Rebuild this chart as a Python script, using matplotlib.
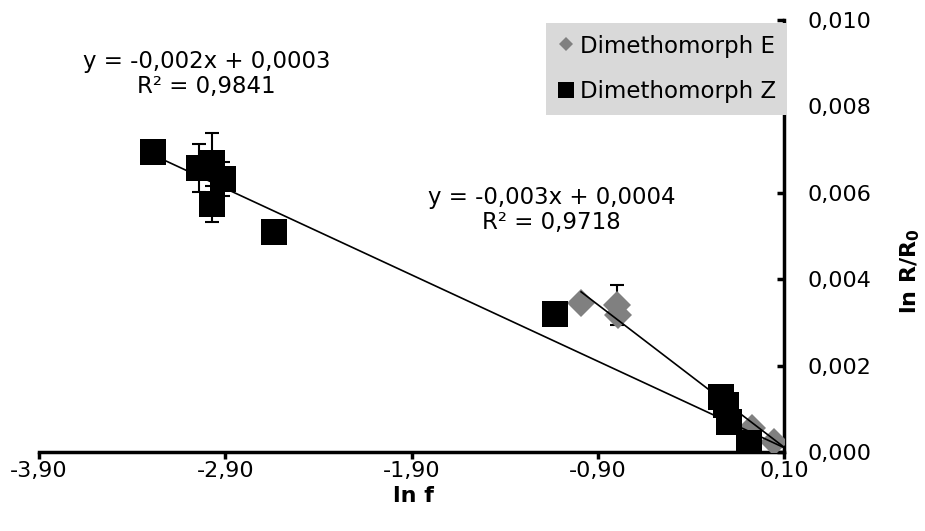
import numpy as np
import matplotlib.pyplot as plt
from matplotlib.lines import Line2D
from matplotlib.ticker import FuncFormatter

# Dimethomorph Z (schwarze Quadrate)
z_lnf = [-3.29, -3.04, -2.97, -2.91, -2.97, -2.64, -1.13, -0.24, -0.21, -0.195, -0.09]
z_lnr = [0.00694, 0.00657, 0.00669, 0.00632, 0.00574, 0.00509, 0.00319, 0.00127, 0.00109, 0.00069, 0.00021]
z_err = [0.0, 0.00056, 0.0007, 0.0004, 0.00042, 0.0, 0.0002, 0.0, 0.0, 0.0, 0.0]

# Dimethomorph E (graue Rauten)
e_lnf = [-0.99, -0.795, -0.79, -0.07, 0.045]
e_lnr = [0.00345, 0.0034, 0.00317, 0.00055, 0.00023]
e_err = [0.0001, 0.00046, 0.0, 0.0, 0.0]

# Trendlinien (Steigung, Achsenabschnitt) und Beschriftung
z_fit = (-0.002, 0.0003)
e_fit = (-0.0033, 0.00044)
z_eq = 'y = -0,002x + 0,0003\nR² = 0,9841'
e_eq = 'y = -0,003x + 0,0004\nR² = 0,9718'

x_ticks = [-3.9, -2.9, -1.9, -0.9, 0.1]
y_ticks = [0.0, 0.002, 0.004, 0.006, 0.008, 0.010]

plt.rcParams['font.family'] = ['DejaVu Sans']
fig = plt.figure(figsize=(9.25, 5.31), dpi=100)
ax = fig.add_axes([0.0422, 0.1488, 0.8055, 0.8135])

ax.errorbar(e_lnf, e_lnr, yerr=e_err, fmt='none', ecolor='black', elinewidth=1.5,
            capsize=5, capthick=1.5, zorder=2)
ax.plot(e_lnf, e_lnr, 'D', color='#808080', markersize=14, markeredgewidth=0, zorder=3)
ax.errorbar(z_lnf, z_lnr, yerr=z_err, fmt='none', ecolor='black', elinewidth=1.5,
            capsize=5, capthick=1.5, zorder=4)
ax.plot(z_lnf, z_lnr, 's', color='black', markersize=18.5, markeredgewidth=0, zorder=5)

xmax = x_ticks[-1]
xz = np.array([min(z_lnf), xmax])
ax.plot(xz, z_fit[0] * xz + z_fit[1], color='black', lw=1.2, zorder=6)
xe = np.array([min(e_lnf), xmax])
ax.plot(xe, e_fit[0] * xe + e_fit[1], color='black', lw=1.2, zorder=6)

ax.text(-3.0, 0.00875, z_eq, ha='center', va='center', fontsize=16.5, linespacing=1.15)
ax.text(-1.15, 0.0056, e_eq, ha='center', va='center', fontsize=16.5, linespacing=1.15)

ax.set_xlim(x_ticks[0], x_ticks[-1])
ax.set_ylim(y_ticks[0], y_ticks[-1])
ax.set_xticks(x_ticks)
ax.set_yticks(y_ticks)
ax.xaxis.set_major_formatter(FuncFormatter(lambda v, p: f'{v:.2f}'.replace('.', ',')))
ax.yaxis.set_major_formatter(FuncFormatter(lambda v, p: f'{v:.3f}'.replace('.', ',')))
ax.yaxis.tick_right()
ax.tick_params(axis='x', direction='out', length=5, width=2.5, labelsize=16, pad=1.5)
ax.tick_params(axis='y', direction='in', length=5, width=2.5, labelsize=16, pad=17)

for s in ['left', 'top']:
    ax.spines[s].set_visible(False)
for s in ['bottom', 'right']:
    ax.spines[s].set_linewidth(2.5)
    ax.spines[s].set_color('black')

fig.text(0.4465, 0.065, 'ln f', ha='center', va='center', fontsize=16, fontweight='bold')
fig.text(0.984, 0.49, 'ln R/R$_\\mathbf{0}$', ha='center', va='center', rotation=90,
         fontsize=16, fontweight='bold')

handles = [Line2D([], [], ls='none', marker='D', color='#808080', markersize=7, markeredgewidth=0),
           Line2D([], [], ls='none', marker='s', color='black', markersize=11, markeredgewidth=0)]
leg = ax.legend(handles, ['Dimethomorph E', 'Dimethomorph Z'], loc='upper right',
                bbox_to_anchor=(1.004, 0.993), fontsize=16.5, frameon=True, fancybox=False,
                facecolor='#d9d9d9', edgecolor='none', framealpha=1, handlelength=0.7,
                handletextpad=0.25, borderpad=0.5, labelspacing=1.0, borderaxespad=0)
leg.set_zorder(10)

fig.savefig('out.png', dpi=100)
